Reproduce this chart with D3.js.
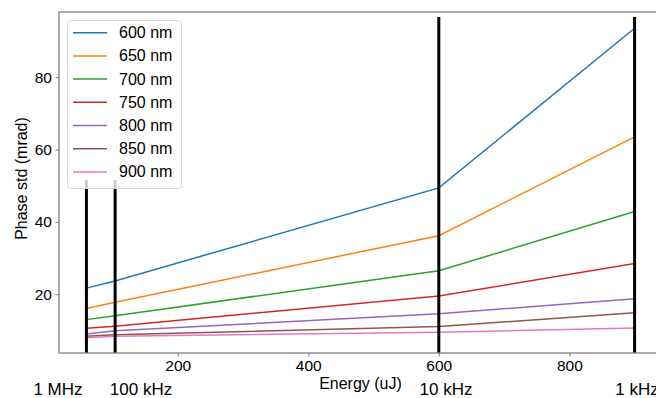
<!DOCTYPE html>
<html><head><meta charset="utf-8">
<script src="https://cdn.jsdelivr.net/npm/d3@7"></script>
<style>body{margin:0;background:#fff;} svg{display:block;font-family:"Liberation Sans",Arial,sans-serif;}</style>
</head><body><svg id="c" width="656" height="398"></svg>
<script>
const energies = [60, 104, 600, 900];
const seriesNames = ["600 nm","650 nm","700 nm","750 nm","800 nm","850 nm","900 nm"];
const s600 = [21.7, 23.7, 49.4, 93.5];
const s650 = [16.1, 17.8, 36.2, 63.5];
const s700 = [13.0, 14.1, 26.5, 42.9];
const s750 = [10.6, 11.2, 19.5, 28.5];
const s800 = [9.0, 9.9, 14.6, 18.8];
const s850 = [8.4, 8.8, 11.1, 14.9];
const s900 = [8.0, 8.4, 9.5, 10.7];
const colors = ["#1f77b4","#ff7f0e","#2ca02c","#d62728","#9467bd","#8c564b","#e377c2"];
const markerX = [60, 104, 600, 900];
const markerTop = [51.6, 51.6, 96.6, 96.6];
const markerLabels = ["1 MHz","100 kHz","10 kHz","1 kHz"];
const xTicks = [200, 400, 600, 800];
const yTicks = [20, 40, 60, 80];
const seriesVals = [s600, s650, s700, s750, s800, s850, s900];

const svg = d3.select("#c");
const L = 59, R = 662, T = 12, B = 353;
const x = d3.scaleLinear().domain([18, 942]).range([L, R]);
const y = d3.scaleLinear().domain([3.78, 98.0]).range([B, T]);

svg.append("defs").append("clipPath").attr("id","clip")
  .append("rect").attr("x",L).attr("y",T).attr("width",R-L).attr("height",B-T);

const plot = svg.append("g").attr("clip-path","url(#clip)");
const line = d3.line().x((d,i)=>x(energies[i])).y(d=>y(d));
seriesVals.forEach((vals,k)=>{
  plot.append("path").datum(vals).attr("d",line)
    .attr("fill","none").attr("stroke",colors[k]).attr("stroke-width",1.5);
});
markerX.forEach((mx,i)=>{
  plot.append("line").attr("x1",x(mx)).attr("x2",x(mx))
    .attr("y1",y(markerTop[i])).attr("y2",y(0))
    .attr("stroke","#000").attr("stroke-width",3);
});

// spines
const spineC = "#808080";
svg.append("rect").attr("x",L).attr("y",T).attr("width",R-L).attr("height",B-T)
  .attr("fill","none").attr("stroke",spineC).attr("stroke-width",1.3);

// axes
const xa = svg.append("g").attr("transform",`translate(0,${B})`)
  .call(d3.axisBottom(x).tickValues(xTicks).tickSize(3.5).tickPadding(3.5).tickFormat(d3.format("d")));
const ya = svg.append("g").attr("transform",`translate(${L},0)`)
  .call(d3.axisLeft(y).tickValues(yTicks).tickSize(3.5).tickPadding(3.5).tickFormat(d3.format("d")));
[xa,ya].forEach(a=>{
  a.select(".domain").remove();
  a.selectAll(".tick line").attr("stroke",spineC).attr("stroke-width",1);
  a.selectAll(".tick text").attr("fill","#000").style("font-size","15.5px").style("font-family","Liberation Sans, Arial, sans-serif");
});

// axis labels
svg.append("text").attr("x",(L+R)/2).attr("y",389).attr("text-anchor","middle")
  .style("font-size","16px").text("Energy (uJ)");
svg.append("text").attr("transform",`translate(27,${(T+B)/2-4}) rotate(-90)`)
  .attr("text-anchor","middle").style("font-size","16px").text("Phase std (mrad)");

// frequency labels
const lblX = [58, 141, 446, 637];
markerLabels.forEach((t,i)=>{
  svg.append("text").attr("x",lblX[i]).attr("y",395).attr("text-anchor","middle")
    .style("font-size","17px").text(t);
});

// legend
const lg = svg.append("g");
lg.append("rect").attr("x",67.5).attr("y",20.5).attr("width",114).attr("height",168)
  .attr("rx",3).attr("fill","#fff").attr("fill-opacity",0.8).attr("stroke","#d9d9d9").attr("stroke-width",1);
seriesNames.forEach((n,i)=>{
  const yy = 32.7 + i*23.2;
  lg.append("line").attr("x1",73).attr("x2",107).attr("y1",yy).attr("y2",yy)
    .attr("stroke",colors[i]).attr("stroke-width",1.5);
  lg.append("text").attr("x",119).attr("y",yy+5.5).style("font-size","16px").text(n);
});
</script></body></html>
